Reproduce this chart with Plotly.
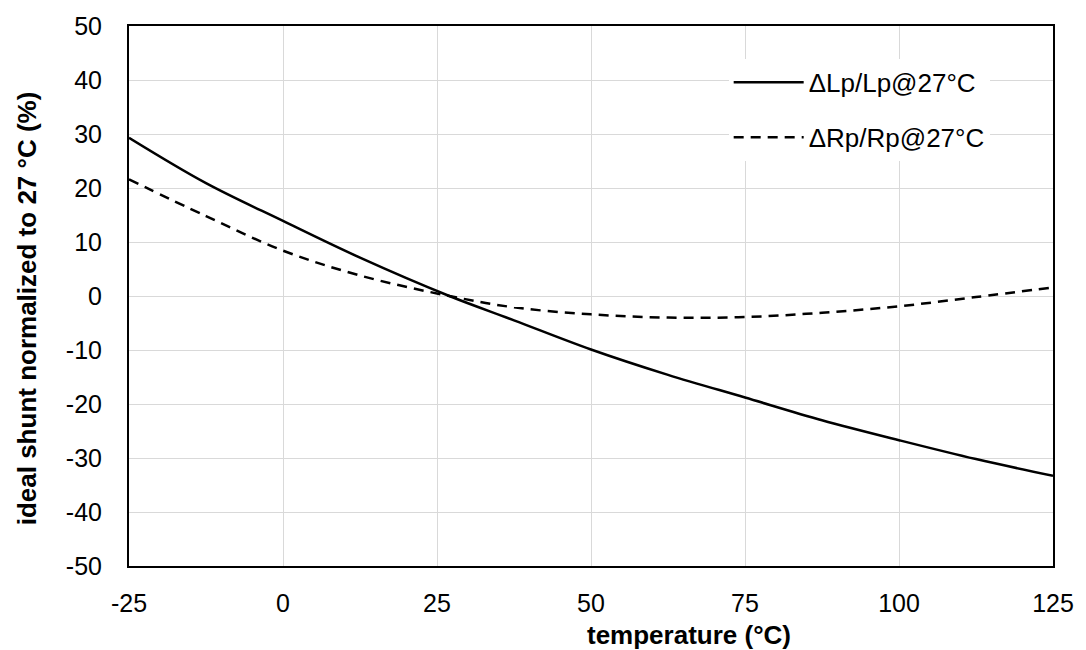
import plotly.graph_objects as go

temperature = [-25, -12.5, 0, 12.5, 27, 37.5, 50, 62.5, 75, 87.5, 100, 112.5, 125]
lp_change = [29.3, 20.9, 13.9, 7.1, 0.0, -4.5, -9.9, -14.6, -18.8, -23.0, -26.7, -30.2, -33.3]
rp_change = [21.6, 14.8, 8.4, 3.8, 0.0, -2.1, -3.4, -4.0, -3.9, -3.1, -1.9, -0.2, 1.6]

x_ticks = [-25, 0, 25, 50, 75, 100, 125]
x_tick_text = ["-25", "0", "25", "50", "75", "100", "125"]
y_ticks = [-50, -40, -30, -20, -10, 0, 10, 20, 30, 40, 50]
y_tick_text = ["-50", "-40", "-30", "-20", "-10", "0", "10", "20", "30", "40", "50"]

FONT = "Liberation Sans, Arial, sans-serif"

fig = go.Figure()
fig.add_trace(go.Scatter(
    x=temperature, y=lp_change, mode="lines", name="ΔLp/Lp@27°C",
    line=dict(color="black", width=2.5, shape="spline"), legendgroup="a"))
fig.add_trace(go.Scatter(
    x=temperature, y=rp_change, mode="lines", name="ΔRp/Rp@27°C",
    line=dict(color="black", width=2.5, dash="10px,7px", shape="spline"), legendgroup="b"))

axis_common = dict(
    showline=True, linecolor="black", linewidth=2, mirror=True,
    showgrid=True, gridcolor="#d9d9d9", gridwidth=1,
    zeroline=False, ticks="", tickfont=dict(family=FONT, size=25, color="black"),
)

fig.update_layout(
    width=1086, height=650,
    margin=dict(l=129, r=28, t=24, b=84),
    paper_bgcolor="white", plot_bgcolor="white",
    font=dict(family=FONT, color="black"),
    xaxis=dict(range=[-25, 125], tickvals=x_ticks, ticktext=x_tick_text,
               ticklabelstandoff=14, **axis_common),
    yaxis=dict(range=[-50, 50], tickvals=y_ticks, ticktext=y_tick_text,
               ticklabelstandoff=20, **axis_common),
    legend=dict(x=0.649, y=0.939, xanchor="left", yanchor="top",
                bgcolor="white", font=dict(family=FONT, size=26, color="black"),
                itemwidth=70, traceorder="grouped", tracegroupgap=18),
    showlegend=True,
    annotations=[
        dict(text="<b>temperature (°C)</b>", xref="paper", yref="paper",
             x=0.606, y=-0.127, xanchor="center", yanchor="middle",
             showarrow=False, font=dict(family=FONT, size=26, color="black")),
        dict(text="<b>ideal shunt normalized to 27 °C (%)</b>", xref="paper", yref="paper",
             x=-0.111, y=0.478, xanchor="center", yanchor="middle", textangle=-90,
             showarrow=False, font=dict(family=FONT, size=26, color="black")),
    ],
)

fig.write_html("out.html")
